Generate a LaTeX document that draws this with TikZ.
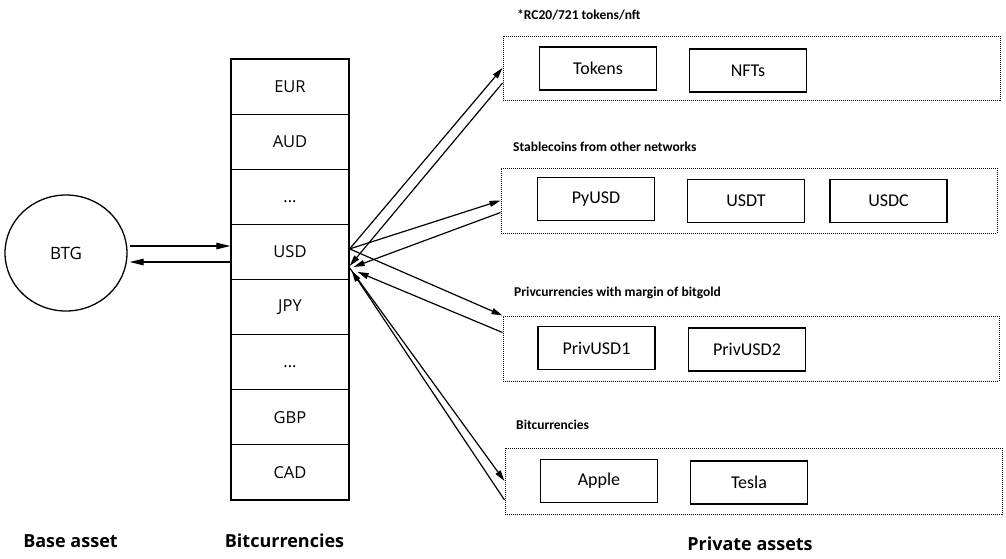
\documentclass[tikz,border=0pt]{standalone}
\usepackage{fontspec}
\setmainfont{Carlito}
\newfontfamily\osans{Open Sans}
\usetikzlibrary{arrows.meta,shapes.geometric}
\begin{document}
\begin{tikzpicture}[x=1pt,y=-1pt,
  cell/.style={draw,line width=1.3pt,minimum width=118pt,minimum height=55.1pt,inner sep=0pt,font=\osans\fontsize{16.5}{19}\selectfont},
  item/.style={draw,line width=1.5pt,minimum width=117pt,minimum height=43pt,inner sep=0pt,font=\fontsize{18}{21}\selectfont},
  grp/.style={draw,dash pattern=on 1pt off 1pt,line width=1pt,inner sep=0pt},
  gtitle/.style={anchor=west,inner sep=0pt,font=\bfseries\fontsize{13.5}{16}\selectfont},
  blabel/.style={inner sep=0pt,font=\osans\bfseries\fontsize{18}{21}\selectfont},
  arr/.style={-{Triangle[length=14pt,width=6.5pt]},line width=1.2pt},
  farr/.style={-{Triangle[length=11pt,width=6pt]},line width=1.2pt}]
\fill[white] (0,0) rectangle (1006,558);
\useasboundingbox (0,0) rectangle (1006,558);

% base asset
\node[draw,ellipse,line width=1.3pt,minimum width=122pt,minimum height=116pt,inner sep=0pt,font=\osans\fontsize{17}{20}\selectfont] (btg) at (66,253) {BTG};

% bitcurrency stack
\node[cell] (eur) at (290,86.6) {EUR};
\node[cell] (aud) at (290,141.7) {AUD};
\node[cell] (dot1) at (290,196.8) {\vphantom{U}...};
\node[cell] (usd) at (290,251.9) {USD};
\node[cell] (jpy) at (290,307.0) {JPY};
\node[cell] (dot2) at (290,362.1) {\vphantom{U}...};
\node[cell] (gbp) at (290,417.2) {GBP};
\node[cell] (cad) at (290,472.3) {CAD};

% arrows BTG <-> USD
\draw[arr] ([xshift=2pt,yshift=7pt]btg.east) -- ([yshift=7pt]btg.east -| usd.west);
\draw[arr] ([yshift=-9pt]btg.east -| usd.west) -- ([xshift=2pt,yshift=-9pt]btg.east);

% groups
\node[grp,minimum width=497pt,minimum height=64pt] (g1) at (751.5,68) {};
\node[grp,minimum width=496pt,minimum height=65pt] (g2) at (749,200.5) {};
\node[grp,minimum width=496pt,minimum height=65pt] (g3) at (751,348.5) {};
\node[grp,minimum width=497pt,minimum height=66pt] (g4) at (753.5,481) {};

\node[gtitle] (t1) at (517,15) {*RC20/721 tokens/nft};
\node[gtitle] (t2) at (513,147) {Stablecoins from other networks};
\node[gtitle] (t3) at (514,293) {Privcurrencies with margin of bitgold};
\node[gtitle] (t4) at (516,425) {Bitcurrencies};

\node[item] (tokens) at (598,68.5) {Tokens};
\node[item] (nfts) at (748,70.5) {NFTs};
\node[item] (pyusd) at (596,199) {PyUSD};
\node[item] (usdt) at (746,201) {USDT};
\node[item] (usdc) at (888.5,201) {USDC};
\node[item] (priv1) at (596.5,348) {PrivUSD1};
\node[item] (priv2) at (747,349.5) {PrivUSD2};
\node[item] (apple) at (599,481) {Apple};
\node[item] (tesla) at (749,482.5) {Tesla};

% fan arrows
\coordinate (uo) at ([yshift=3pt]usd.east);
\coordinate (ui) at ([yshift=-16pt]usd.east);
\draw[farr] (uo) -- (g1.west);
\draw[farr] ([yshift=-15pt]g1.west) -- ([yshift=-14pt]usd.east);
\draw[farr] (uo) -- (g2.west);
\draw[farr] ([yshift=-12pt]g2.west) -- ([xshift=4pt,yshift=-15pt]usd.east);
\draw[farr] (uo) -- (g3.north west);
\draw[farr] ([yshift=-17pt]g3.north west) -- ([xshift=8pt,yshift=-20pt]usd.east);
\draw[farr] (ui) -- (g4.west);
\draw[farr] ([yshift=-19pt]g4.west) -- ([xshift=2pt,yshift=-19pt]usd.east);

% bottom labels
\node[blabel] (lbase) at (70.5,541) {Base asset};
\node[blabel] (lbit) at (284.5,541) {Bitcurrencies};
\node[blabel] (lpriv) at (750,544) {Private assets};
\end{tikzpicture}
\end{document}
